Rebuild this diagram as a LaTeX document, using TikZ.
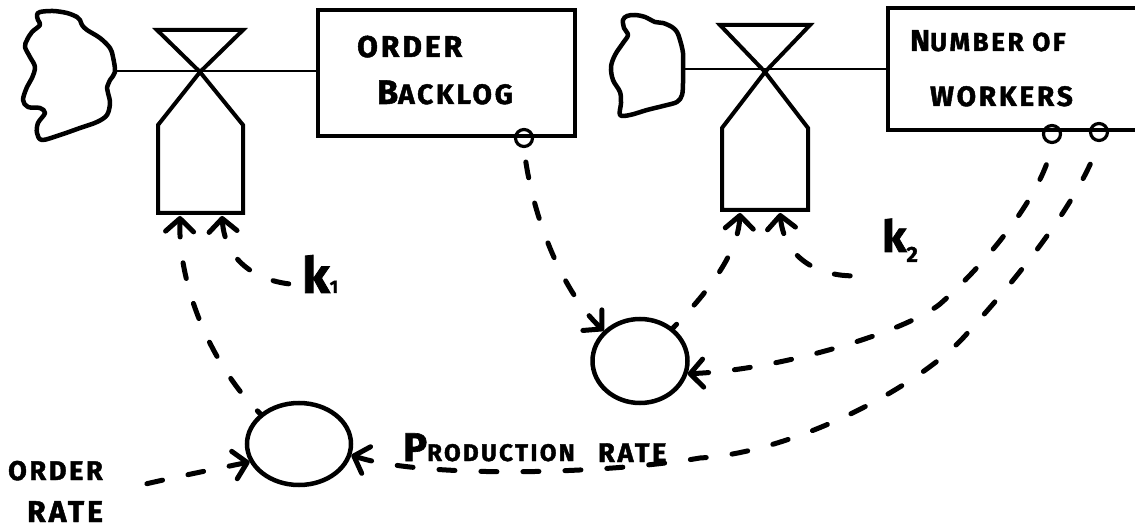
\documentclass[tikz,border=0pt]{standalone}
\usepackage{fontspec}
\setmainfont{Fira Sans}
\newfontfamily\hand[LetterSpace=10, BoldFeatures={FakeBold=1.6}]{Fira Sans}
\newcommand\fsz[1]{\fontsize{#1}{#1}\selectfont}
\usetikzlibrary{arrows.meta,shapes.geometric}

\tikzset{
  cloudline/.style={line width=4.5pt, line join=round},
  valveline/.style={line width=4pt, line join=miter},
  flowline/.style={line width=2.5pt},
  stockbox/.style={draw, rectangle, line width=3.5pt, inner sep=0pt},
  auxvar/.style={draw, ellipse, line width=4.5pt, inner sep=0pt},
  tap/.style={draw, circle, line width=3.2pt, minimum size=17pt, inner sep=0pt},
  lbl/.style={inner sep=0pt, anchor=base west, font=\hand\bfseries},
  barbtip/.tip={Straight Barb[length=13pt, width=28pt, round]},
  link/.style={line width=5pt, line cap=round, dash pattern=on 16pt off 26pt},
}

\begin{document}
\begin{tikzpicture}[x=1pt, y=-1pt]
\useasboundingbox (0,0) rectangle (1135,529);

% ---- sources (clouds) ----
\draw[cloudline] plot[smooth cycle, tension=0.55] coordinates {
  (115,72) (113,57) (110,48) (100,38) (87,30) (82,25) (80,20) (77,17)
  (67,13) (53,11) (40,12) (37,15) (38,20) (40,25) (32,32) (27,40)
  (25,47) (30,57) (35,67) (32,78) (27,87) (23,100) (28,107) (40,108)
  (45,113) (38,123) (37,133) (42,140) (60,135) (80,128) (97,122)
  (107,115) (110,103) (108,93) (107,88) (110,80)};
\coordinate (cl1) at (115,71);

\draw[cloudline] plot[smooth cycle, tension=0.55] coordinates {
  (683,68) (683,53) (680,40) (677,32) (672,27) (663,23) (655,22)
  (645,17) (635,15) (627,16) (623,20) (624,28) (628,35) (623,43)
  (615,55) (611,67) (613,80) (620,92) (621,103) (620,115) (630,115)
  (647,110) (663,106) (677,102) (682,95) (683,83)};
\coordinate (cl2) at (683,69);

% ---- levels ----
\node[stockbox, minimum width=257pt, minimum height=126pt] (bk) at (446.5,73) {};
\node[stockbox, minimum width=257pt, minimum height=122pt] (wk) at (1016.5,69) {};

\node[lbl] (bk1) at (357,57) {\fsz{30}ORDER};
\node[lbl] (bk2) at (377,104) {\fsz{34}B\fsz{28}ACKLOG};
\node[lbl] (wk1) at (910,51) {\fsz{30}N\fsz{26}UMBER OF};
\node[lbl] (wk2) at (930,106) {\fsz{28}WORKERS};

% ---- flow pipes ----
\draw[flowline] (cl1) -- (cl1 -| bk.west);
\draw[flowline] (cl2) -- (cl2 -| wk.west);

% ---- rate valves ----
\draw[valveline] (157,30) -- (243,30) -- (200,72) -- (158,125) -- (158,213)
  -- (243,213) -- (243,125) -- (200,72) -- cycle;
\draw[valveline] (720,25) -- (810,25) -- (765,72) -- (722,128) -- (722,210)
  -- (808,210) -- (808,128) -- (765,72) -- cycle;
\coordinate (v1a) at (180,216);
\coordinate (v1b) at (222,216);
\coordinate (v2a) at (740,213);
\coordinate (v2b) at (780,213);

% ---- information taps ----
\node[tap] (bkc) at (524,138) {};
\node[tap] (wa) at (1052,134) {};
\node[tap] (wb) at (1099,132) {};

% ---- auxiliaries ----
\node[auxvar, minimum width=104pt, minimum height=82pt] (c1) at (299,444) {};
\node[auxvar, minimum width=95pt, minimum height=84pt] (c2) at (640,361) {};

% ---- constants and labels ----
\node[lbl] (k1) at (302,293) {\fsz{50}k\fsz{18}1};
\node[lbl] (k2) at (882,252) {\fsz{44}k\raisebox{-10pt}{\fsz{22}2}};
\coordinate (k1tail) at (290,284);
\coordinate (k2tail) at (875,274);

\node[lbl] (pr1) at (403,461) {\fsz{40}P\fsz{24}RODUCTION};
\node[lbl] (pr2) at (598,462) {\fsz{27}RATE};
\node[lbl] (or1) at (8,480) {\fsz{27}ORDER};
\node[lbl] (or2) at (27,522) {\fsz{30}RATE};
\coordinate (ortail) at (125,489);

% ---- information links ----
\draw[link, {barbtip}-] (v1a) .. controls (178,290) and (215,370) .. (c1.142);
\draw[link, {barbtip}-] (v1b) .. controls (225,260) and (255,280) .. (k1tail);
\draw[link, {barbtip}-] (c2.140) .. controls (565,295) and (532,220) .. (bkc.south);
\draw[link, {barbtip}-] (v2a) .. controls (738,255) and (705,295) .. (c2.45);
\draw[link, {barbtip}-] (v2b) .. controls (785,265) and (830,282) .. (k2tail);
\draw[link, {barbtip}-] (c2.-15) .. controls (780,370) and (905,332) .. (940,304)
  .. controls (990,260) and (1045,190) .. (wa.south);
\draw[link, {barbtip}-] (c1.-12) .. controls (420,478) and (600,475) .. (700,458)
  .. controls (800,452) and (930,380) .. (970,330)
  .. controls (1020,275) and (1080,200) .. (wb.south);
\draw[link, {barbtip}-] (c1.200) .. controls (220,468) and (160,480) .. (ortail);

\end{tikzpicture}
\end{document}
